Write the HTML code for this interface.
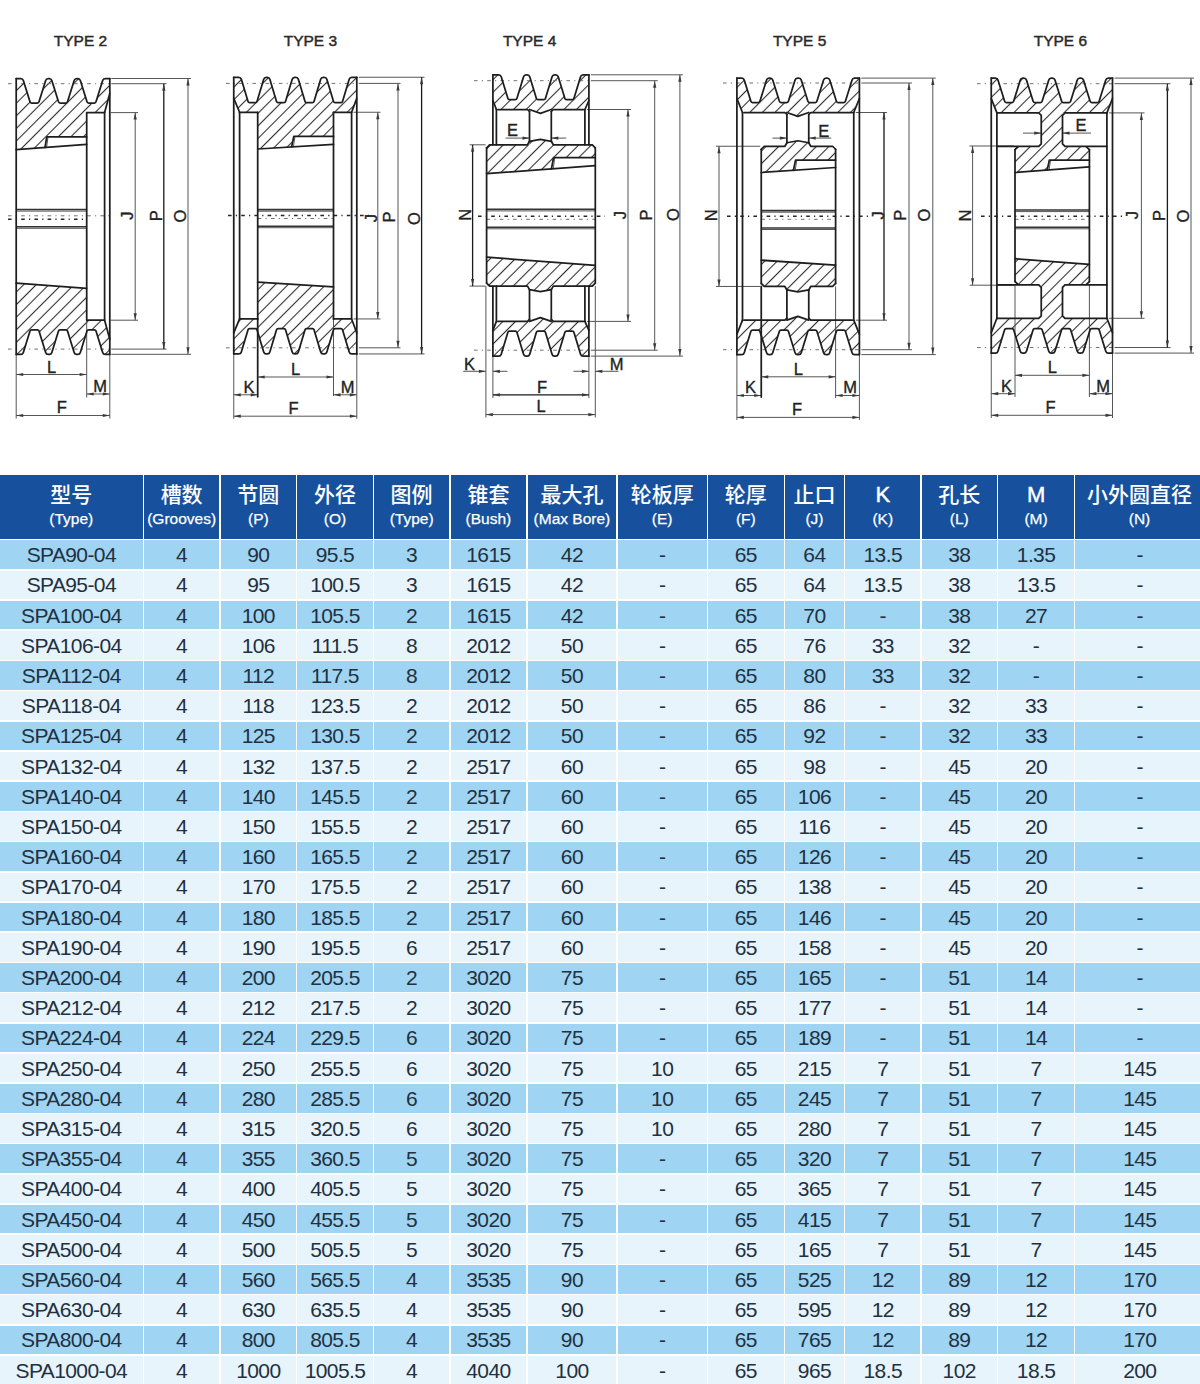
<!DOCTYPE html>
<html lang="zh-CN"><head><meta charset="utf-8"><title>SPA 4-groove taper bush pulleys</title>
<style>
html,body{margin:0;padding:0;background:#fff;}
body{width:1200px;height:1384px;position:relative;overflow:hidden;font-family:"Liberation Sans","Noto Sans CJK SC",sans-serif;}
#dw{position:absolute;left:0;top:0;}
.tbl{position:absolute;left:0;top:475.0px;width:1200px;display:grid;border-collapse:separate;border-spacing:0;margin:0;padding:0;}
.tbl thead,.tbl tbody,.tbl tr{display:contents;}
.tbl th,.tbl td{padding-left:0;padding-right:0;padding-bottom:0;margin:0;border:0;font-weight:normal;}
.th{background:#17519e;color:#fff;display:flex;padding-top:0;flex-direction:column;align-items:center;justify-content:flex-start;}
.th .zh{font-family:"Liberation Sans","Noto Sans CJK SC",sans-serif;font-weight:500;font-size:21px;line-height:21px;margin-top:8.6px;height:21px;white-space:nowrap;}
.th .zh.lat{font-size:22px;-webkit-text-stroke:0.45px #fff;}
.th .en{font-size:15.5px;line-height:16px;margin-top:6.3px;white-space:nowrap;-webkit-text-stroke:0.25px #fff;}
.th.last{padding-left:4px;}
.td{display:flex;align-items:center;justify-content:center;font-size:21px;letter-spacing:-0.6px;color:#223040;white-space:nowrap;padding-top:1.2px;box-sizing:border-box;}
.td.d{background:#9fd5f3;}
.td.l{background:#e8f4fc;}
.td.last{padding-left:4.5px;}
</style></head><body>
<svg id="dw" width="1200" height="470" viewBox="0 0 1200 470">
<defs><pattern id="ht" patternUnits="userSpaceOnUse" width="8.9" height="8.9" patternTransform="rotate(45)"><line x1="4.45" y1="-1" x2="4.45" y2="10" stroke="#2e2e2e" stroke-width="1.1"/></pattern><style>.dl{font-family:"Liberation Sans",sans-serif;font-size:16.5px;fill:#222;stroke:#222;stroke-width:0.35px;}.tt{font-family:"Liberation Sans",sans-serif;font-size:15.5px;fill:#2a2a2a;stroke:#2a2a2a;stroke-width:0.45px;}</style></defs>
<g fill="url(#ht)" stroke="none"><path d="M16.2 78.5 L22.75 78.5 L30.35 103 L38.65 103 L46.25 78.5 L51.25 78.5 L58.85 103 L67.15 103 L74.75 78.5 L79.75 78.5 L87.35 103 L95.65 103 L103.25 78.5 L109.8 78.5 L109.8 93.5 L104.6 112.6 L86.7 112.6 L86.7 136.9 L46.8 136.9 L45 147.48 L16.2 149.6 Z"/><path d="M16.2 354.3 L22.75 354.3 L30.35 329.8 L38.65 329.8 L46.25 354.3 L51.25 354.3 L58.85 329.8 L67.15 329.8 L74.75 354.3 L79.75 354.3 L87.35 329.8 L95.65 329.8 L103.25 354.3 L109.8 354.3 L109.8 339.3 L104.6 320.2 L86.7 320.2 L86.7 288.4 L16.2 283.2 Z"/><path d="M233.75 77.25 L240.77 77.25 L248.37 102.6 L256.67 102.6 L264.27 77.25 L269.27 77.25 L276.88 102.6 L285.17 102.6 L292.77 77.25 L297.77 77.25 L305.38 102.6 L313.67 102.6 L321.27 77.25 L326.27 77.25 L333.88 102.6 L342.17 102.6 L349.77 77.25 L356.8 77.25 L356.8 98.3 L351.6 112.25 L333.5 112.25 L333.5 136.4 L293.8 136.4 L291.6 146.9 L257.7 149 L257.7 112.25 L239.6 112.25 L233.75 98.3 Z"/><path d="M233.75 353.95 L240.77 353.95 L248.37 328.6 L256.67 328.6 L264.27 353.95 L269.27 353.95 L276.88 328.6 L285.17 328.6 L292.77 353.95 L297.77 353.95 L305.38 328.6 L313.67 328.6 L321.27 353.95 L326.27 353.95 L333.88 328.6 L342.17 328.6 L349.77 353.95 L356.8 353.95 L356.8 332.9 L351.6 318.95 L333.5 318.95 L333.5 286.9 L257.7 282.2 L257.7 318.95 L239.6 318.95 L233.75 332.9 Z"/><path d="M492.9 74.8 L500.65 74.8 L508.25 99.7 L516.55 99.7 L524.15 74.8 L529.15 74.8 L536.75 99.7 L545.05 99.7 L552.65 74.8 L557.65 74.8 L565.25 99.7 L573.55 99.7 L581.15 74.8 L588.9 74.8 L588.9 100.5 L584.9 109.5 L551.3 109.5 L540.4 113.3 L529.5 109.5 L496.4 109.5 L492.9 100.5 Z"/><path d="M492.9 356.1 L500.65 356.1 L508.25 331.2 L516.55 331.2 L524.15 356.1 L529.15 356.1 L536.75 331.2 L545.05 331.2 L552.65 356.1 L557.65 356.1 L565.25 331.2 L573.55 331.2 L581.15 356.1 L588.9 356.1 L588.9 330.4 L584.9 321.4 L551.3 321.4 L540.4 317.6 L529.5 321.4 L496.4 321.4 L492.9 330.4 Z"/><path d="M486.6 144.8 L529.5 144.8 L529.5 141.3 L540.4 139.3 L551.3 141.3 L551.3 144.8 L595.3 144.8 L595.3 157.5 L553.6 157.5 L551.4 168.87 L486.6 173.7 Z"/><path d="M486.6 286.1 L529.5 286.1 L529.5 289.6 L540.4 291.6 L551.3 289.6 L551.3 286.1 L595.3 286.1 L595.3 265.3 L486.6 257.2 Z"/><path d="M736.9 78.1 L743.65 78.1 L751.25 102.5 L759.55 102.5 L767.15 78.1 L772.15 78.1 L779.75 102.5 L788.05 102.5 L795.65 78.1 L800.65 78.1 L808.25 102.5 L816.55 102.5 L824.15 78.1 L829.15 78.1 L836.75 102.5 L845.05 102.5 L852.65 78.1 L859.4 78.1 L859.4 98.5 L853.75 112.5 L808.75 112.5 L797.83 116.3 L786.9 112.5 L742.5 112.5 L736.9 98.5 Z"/><path d="M736.9 354.6 L743.65 354.6 L751.25 330.2 L759.55 330.2 L767.15 354.6 L772.15 354.6 L779.75 330.2 L788.05 330.2 L795.65 354.6 L800.65 354.6 L808.25 330.2 L816.55 330.2 L824.15 354.6 L829.15 354.6 L836.75 330.2 L845.05 330.2 L852.65 354.6 L859.4 354.6 L859.4 334.2 L853.75 320.2 L808.75 320.2 L797.83 316.4 L786.9 320.2 L742.5 320.2 L736.9 334.2 Z"/><path d="M761.25 146.25 L786.9 146.25 L786.9 142.75 L797.83 140.75 L808.75 142.75 L808.75 146.25 L835.6 146.25 L835.6 160 L795.6 160 L793.4 170.34 L761.25 172.5 Z"/><path d="M761.25 286.45 L786.9 286.45 L786.9 289.95 L797.83 291.95 L808.75 289.95 L808.75 286.45 L835.6 286.45 L835.6 265.2 L761.25 260.2 Z"/><path d="M991.25 78.1 L997.38 78.1 L1004.98 102.5 L1013.27 102.5 L1020.88 78.1 L1025.88 78.1 L1033.47 102.5 L1041.78 102.5 L1049.38 78.1 L1054.38 78.1 L1061.97 102.5 L1070.28 102.5 L1077.88 78.1 L1082.88 78.1 L1090.47 102.5 L1098.78 102.5 L1106.38 78.1 L1112.5 78.1 L1112.5 98.5 L1106.9 112.9 L1062.5 112.9 L1062.5 146.6 L1089.4 146.6 L1089.4 160 L1049.4 160 L1047.2 170.08 L1015 172.5 L1015 146.6 L1041.25 146.6 L1041.25 112.9 L996.9 112.9 L991.25 98.5 Z"/><path d="M991.25 353.1 L997.38 353.1 L1004.98 328.7 L1013.27 328.7 L1020.88 353.1 L1025.88 353.1 L1033.47 328.7 L1041.78 328.7 L1049.38 353.1 L1054.38 353.1 L1061.97 328.7 L1070.28 328.7 L1077.88 353.1 L1082.88 353.1 L1090.47 328.7 L1098.78 328.7 L1106.38 353.1 L1112.5 353.1 L1112.5 332.7 L1106.9 318.3 L1062.5 318.3 L1062.5 284.6 L1089.4 284.6 L1089.4 264.3 L1015 258.7 L1015 284.6 L1041.25 284.6 L1041.25 318.3 L996.9 318.3 L991.25 332.7 Z"/></g>
<g fill="none" stroke="#262626" stroke-width="1.6" stroke-dasharray="3.6 4.2 1.2 4.2"><path d="M8 219.3 L86.7 219.3"/><path d="M228 215.5 L372 215.5"/><path d="M478 216.3 L605 216.3"/><path d="M727 216.3 L872 216.3"/><path d="M981 216.3 L1125 216.3"/></g>
<g fill="none" stroke="#707070" stroke-width="1" stroke-dasharray="3.6 4.2 1.2 4.2"><path d="M8 215.8 L112.3 215.8"/><path d="M8 83.7 L109.8 83.7"/><path d="M8 349.1 L109.8 349.1"/><path d="M257.7 218.5 L333.5 218.5"/><path d="M226 83.4 L356.8 83.4"/><path d="M226 347.8 L356.8 347.8"/><path d="M486.6 219.3 L595.3 219.3"/><path d="M474 80.7 L588.9 80.7"/><path d="M474 350.2 L588.9 350.2"/><path d="M761.25 219.3 L835.6 219.3"/><path d="M723 83 L859.4 83"/><path d="M723 349.7 L859.4 349.7"/><path d="M1015 219.3 L1089.4 219.3"/><path d="M977 83.7 L1112.5 83.7"/><path d="M977 347.5 L1112.5 347.5"/></g>
<g fill="none" stroke="#4d4d4d" stroke-width="0.95"><path d="M48 136.9 L46.6 147.48"/><path d="M16.2 211.1 L86.7 211.1"/><path d="M16.2 228.3 L86.7 228.3"/><path d="M111.3 78.5 L191 78.5"/><path d="M111.3 354.3 L191 354.3"/><path d="M111.3 83.7 L166.5 83.7"/><path d="M111.3 349.1 L166.5 349.1"/><path d="M110.6 112.6 L138 112.6"/><path d="M110.6 320.2 L138 320.2"/><path d="M135.2 112.6 L135.2 320.2"/><path d="M188 78.5 L188 354.3"/><path d="M16.2 354.3 L16.2 418.5"/><path d="M86.7 320.2 L86.7 397.5"/><path d="M109.8 354.3 L109.8 418.5"/><path d="M16.2 374.5 L86.7 374.5"/><path d="M86.7 394 L109.8 394"/><path d="M16.2 415.5 L109.8 415.5"/><path d="M295 136.4 L293.4 146.9"/><path d="M257.7 211.2 L333.5 211.2"/><path d="M257.7 227.7 L333.5 227.7"/><path d="M358.8 77.25 L424.5 77.25"/><path d="M358.8 353.95 L424.5 353.95"/><path d="M358.8 83.4 L400.5 83.4"/><path d="M358.8 347.8 L400.5 347.8"/><path d="M353.6 112.25 L380.5 112.25"/><path d="M353.6 318.95 L380.5 318.95"/><path d="M377.8 112.25 L377.8 318.95"/><path d="M398 83.4 L398 347.8"/><path d="M233.75 353.95 L233.75 418.8"/><path d="M356.8 353.95 L356.8 418.8"/><path d="M333.5 318.95 L333.5 396"/><path d="M257.7 377 L333.5 377"/><path d="M233.75 394.8 L257.7 394.8"/><path d="M333.5 394.8 L356.8 394.8"/><path d="M233.75 416.2 L356.8 416.2"/><path d="M554.8 157.5 L553.2 168.87"/><path d="M486.6 210.9 L595.3 210.9"/><path d="M486.6 228.8 L595.3 228.8"/><path d="M590.9 74.8 L682.9 74.8"/><path d="M590.9 356.1 L682.9 356.1"/><path d="M590.9 80.7 L657.7 80.7"/><path d="M590.9 350.2 L657.7 350.2"/><path d="M586.9 109.5 L631 109.5"/><path d="M586.9 321.4 L631 321.4"/><path d="M469.6 144.8 L485.6 144.8"/><path d="M469.6 286.1 L485.6 286.1"/><path d="M628 109.5 L628 321.4"/><path d="M654.7 80.7 L654.7 350.2"/><path d="M679.9 74.8 L679.9 356.1"/><path d="M505.5 138.1 L529.5 138.1"/><path d="M551.3 138.1 L566.3 138.1"/><path d="M485.9 286.1 L485.9 417.5"/><path d="M595.3 286.1 L595.3 417.5"/><path d="M492.9 356.1 L492.9 398"/><path d="M588.9 356.1 L588.9 398"/><path d="M463.3 371.3 L485.9 371.3"/><path d="M492.9 371.3 L507.5 371.3"/><path d="M573.5 371.3 L588.9 371.3"/><path d="M595.3 371.3 L618.5 371.3"/><path d="M485.9 414.6 L595.3 414.6"/><path d="M796.8 160 L795.2 170.34"/><path d="M761.25 212.2 L835.6 212.2"/><path d="M761.25 229.5 L835.6 229.5"/><path d="M861.4 78.1 L935.8 78.1"/><path d="M861.4 354.6 L935.8 354.6"/><path d="M861.4 83 L912 83"/><path d="M861.4 349.7 L912 349.7"/><path d="M855.75 112.5 L887 112.5"/><path d="M855.75 320.2 L887 320.2"/><path d="M716 146.25 L760.25 146.25"/><path d="M716 286.45 L760.25 286.45"/><path d="M719 146.25 L719 286.45"/><path d="M909 83 L909 349.7"/><path d="M932.8 78.1 L932.8 354.6"/><path d="M772.4 138.1 L786.9 138.1"/><path d="M808.75 138.1 L831.25 138.1"/><path d="M736.9 354.6 L736.9 420"/><path d="M859.4 354.6 L859.4 420"/><path d="M835.6 286.45 L835.6 398"/><path d="M761.25 376.8 L835.6 376.8"/><path d="M736.9 395.5 L761.25 395.5"/><path d="M835.6 395.5 L859.4 395.5"/><path d="M736.9 417.4 L859.4 417.4"/><path d="M1050.6 160 L1049 170.08"/><path d="M1015 211.6 L1089.4 211.6"/><path d="M1015 228.8 L1089.4 228.8"/><path d="M1114.5 78.1 L1194 78.1"/><path d="M1114.5 353.1 L1194 353.1"/><path d="M1114.5 83.7 L1170.5 83.7"/><path d="M1114.5 347.5 L1170.5 347.5"/><path d="M1108.9 112.9 L1144.5 112.9"/><path d="M1108.9 318.3 L1144.5 318.3"/><path d="M969.5 146 L1014 146"/><path d="M969.5 285.2 L1014 285.2"/><path d="M972.6 146 L972.6 285.2"/><path d="M1141.4 112.9 L1141.4 318.3"/><path d="M1191 78.1 L1191 353.1"/><path d="M1023 133.1 L1041.25 133.1"/><path d="M1062.5 133.1 L1091 133.1"/><path d="M991.25 353.1 L991.25 418"/><path d="M1112.5 353.1 L1112.5 418"/><path d="M1015 284.6 L1015 397"/><path d="M1089.4 284.6 L1089.4 397"/><path d="M1015 375.3 L1089.4 375.3"/><path d="M991.25 393.7 L1015 393.7"/><path d="M1089.4 393.7 L1112.5 393.7"/><path d="M991.25 415.3 L1112.5 415.3"/></g>
<g fill="none" stroke="#1a1a1a" stroke-width="1.3"><path d="M163.8 83.7 L163.8 349.1"/><path d="M421.6 77.25 L421.6 353.95"/><path d="M472.6 144.8 L472.6 286.1"/><path d="M492.9 394.8 L588.9 394.8"/><path d="M884 112.5 L884 320.2"/><path d="M1167.4 83.7 L1167.4 347.5"/></g>
<g fill="none" stroke="#333" stroke-width="1.6"><path d="M16.2 209.5 L86.7 209.5"/><path d="M16.2 226.8 L86.7 226.8"/><path d="M257.7 209.6 L333.5 209.6"/><path d="M257.7 226.2 L333.5 226.2"/><path d="M486.6 209.3 L595.3 209.3"/><path d="M486.6 227.3 L595.3 227.3"/><path d="M761.25 210.6 L835.6 210.6"/><path d="M761.25 228 L835.6 228"/><path d="M1015 210 L1089.4 210"/><path d="M1015 227.3 L1089.4 227.3"/></g>
<g fill="none" stroke="#1e1e1e" stroke-width="1.75" stroke-linejoin="round" stroke-linecap="round"><path d="M16.2 78.5 L20.75 78.5 Q22.75 78.5 23.34 80.41 L29.99 101.85 Q30.35 103 31.55 103 L37.45 103 Q38.65 103 39.01 101.85 L45.66 80.41 Q46.25 78.5 48.25 78.5 L49.25 78.5 Q51.25 78.5 51.84 80.41 L58.49 101.85 Q58.85 103 60.05 103 L65.95 103 Q67.15 103 67.51 101.85 L74.16 80.41 Q74.75 78.5 76.75 78.5 L77.75 78.5 Q79.75 78.5 80.34 80.41 L86.99 101.85 Q87.35 103 88.55 103 L94.45 103 Q95.65 103 96.01 101.85 L102.66 80.41 Q103.25 78.5 105.25 78.5 L109.8 78.5"/><path d="M16.2 354.3 L20.75 354.3 Q22.75 354.3 23.34 352.39 L29.99 330.95 Q30.35 329.8 31.55 329.8 L37.45 329.8 Q38.65 329.8 39.01 330.95 L45.66 352.39 Q46.25 354.3 48.25 354.3 L49.25 354.3 Q51.25 354.3 51.84 352.39 L58.49 330.95 Q58.85 329.8 60.05 329.8 L65.95 329.8 Q67.15 329.8 67.51 330.95 L74.16 352.39 Q74.75 354.3 76.75 354.3 L77.75 354.3 Q79.75 354.3 80.34 352.39 L86.99 330.95 Q87.35 329.8 88.55 329.8 L94.45 329.8 Q95.65 329.8 96.01 330.95 L102.66 352.39 Q103.25 354.3 105.25 354.3 L109.8 354.3"/><path d="M16.2 78.5 L16.2 354.3"/><path d="M109.8 78.5 L109.8 354.3"/><path d="M109.8 93.5 L104.6 112.6"/><path d="M109.8 339.3 L104.6 320.2"/><path d="M86.7 112.6 L104.6 112.6 L104.6 320.2 L86.7 320.2 Z"/><path d="M16.2 149.6 L86.7 144.4"/><path d="M16.2 283.2 L86.7 288.4"/><path d="M86.7 136.9 L46.8 136.9 L45 147.48"/><path d="M233.75 77.25 L238.77 77.25 Q240.77 77.25 241.35 79.17 L248.03 101.45 Q248.37 102.6 249.57 102.6 L255.47 102.6 Q256.67 102.6 257.02 101.45 L263.7 79.17 Q264.27 77.25 266.27 77.25 L267.27 77.25 Q269.27 77.25 269.85 79.17 L276.53 101.45 Q276.88 102.6 278.07 102.6 L283.97 102.6 Q285.17 102.6 285.52 101.45 L292.2 79.17 Q292.77 77.25 294.77 77.25 L295.77 77.25 Q297.77 77.25 298.35 79.17 L305.03 101.45 Q305.38 102.6 306.57 102.6 L312.47 102.6 Q313.67 102.6 314.02 101.45 L320.7 79.17 Q321.27 77.25 323.27 77.25 L324.27 77.25 Q326.27 77.25 326.85 79.17 L333.53 101.45 Q333.88 102.6 335.07 102.6 L340.97 102.6 Q342.17 102.6 342.52 101.45 L349.2 79.17 Q349.77 77.25 351.77 77.25 L356.8 77.25"/><path d="M233.75 98.3 L239.6 112.25 L257.7 112.25"/><path d="M356.8 98.3 L351.6 112.25 L333.5 112.25"/><path d="M257.7 149 L333.5 144.3"/><path d="M233.75 353.95 L238.77 353.95 Q240.77 353.95 241.35 352.03 L248.03 329.75 Q248.37 328.6 249.57 328.6 L255.47 328.6 Q256.67 328.6 257.02 329.75 L263.7 352.03 Q264.27 353.95 266.27 353.95 L267.27 353.95 Q269.27 353.95 269.85 352.03 L276.53 329.75 Q276.88 328.6 278.07 328.6 L283.97 328.6 Q285.17 328.6 285.52 329.75 L292.2 352.03 Q292.77 353.95 294.77 353.95 L295.77 353.95 Q297.77 353.95 298.35 352.03 L305.03 329.75 Q305.38 328.6 306.57 328.6 L312.47 328.6 Q313.67 328.6 314.02 329.75 L320.7 352.03 Q321.27 353.95 323.27 353.95 L324.27 353.95 Q326.27 353.95 326.85 352.03 L333.53 329.75 Q333.88 328.6 335.07 328.6 L340.97 328.6 Q342.17 328.6 342.52 329.75 L349.2 352.03 Q349.77 353.95 351.77 353.95 L356.8 353.95"/><path d="M233.75 332.9 L239.6 318.95 L257.7 318.95"/><path d="M356.8 332.9 L351.6 318.95 L333.5 318.95"/><path d="M257.7 282.2 L333.5 286.9"/><path d="M233.75 77.25 L233.75 353.95"/><path d="M356.8 77.25 L356.8 353.95"/><path d="M239.6 112.25 L239.6 318.95"/><path d="M351.6 112.25 L351.6 318.95"/><path d="M257.7 112.25 L257.7 318.95"/><path d="M333.5 112.25 L333.5 318.95"/><path d="M333.5 136.4 L293.8 136.4 L291.6 146.9"/><path d="M257.7 318.95 L257.7 396.8"/><path d="M492.9 74.8 L498.65 74.8 Q500.65 74.8 501.23 76.71 L507.9 98.55 Q508.25 99.7 509.45 99.7 L515.35 99.7 Q516.55 99.7 516.9 98.55 L523.57 76.71 Q524.15 74.8 526.15 74.8 L527.15 74.8 Q529.15 74.8 529.73 76.71 L536.4 98.55 Q536.75 99.7 537.95 99.7 L543.85 99.7 Q545.05 99.7 545.4 98.55 L552.07 76.71 Q552.65 74.8 554.65 74.8 L555.65 74.8 Q557.65 74.8 558.23 76.71 L564.9 98.55 Q565.25 99.7 566.45 99.7 L572.35 99.7 Q573.55 99.7 573.9 98.55 L580.57 76.71 Q581.15 74.8 583.15 74.8 L588.9 74.8"/><path d="M492.9 100.5 L496.4 109.51"/><path d="M588.9 100.5 L584.9 109.51"/><path d="M497.9 109.5 L527.5 109.5 L529.5 111.5"/><path d="M583.4 109.5 L553.3 109.5 L551.3 111.5"/><path d="M529.5 109.5 L540.4 113.3 L551.3 109.5"/><path d="M529.5 111.5 L529.5 141.3"/><path d="M551.3 111.5 L551.3 141.3"/><path d="M529.5 141.3 L540.4 139.3 L551.3 141.3"/><path d="M486.6 147.8 L489.6 144.8 L527.5 144.8 L529.5 141.3"/><path d="M595.3 147.8 L592.3 144.8 L553.3 144.8 L551.3 141.3"/><path d="M486.6 173.7 L595.3 165.6"/><path d="M492.9 356.1 L498.65 356.1 Q500.65 356.1 501.23 354.19 L507.9 332.35 Q508.25 331.2 509.45 331.2 L515.35 331.2 Q516.55 331.2 516.9 332.35 L523.57 354.19 Q524.15 356.1 526.15 356.1 L527.15 356.1 Q529.15 356.1 529.73 354.19 L536.4 332.35 Q536.75 331.2 537.95 331.2 L543.85 331.2 Q545.05 331.2 545.4 332.35 L552.07 354.19 Q552.65 356.1 554.65 356.1 L555.65 356.1 Q557.65 356.1 558.23 354.19 L564.9 332.35 Q565.25 331.2 566.45 331.2 L572.35 331.2 Q573.55 331.2 573.9 332.35 L580.57 354.19 Q581.15 356.1 583.15 356.1 L588.9 356.1"/><path d="M492.9 330.4 L496.4 321.39"/><path d="M588.9 330.4 L584.9 321.39"/><path d="M497.9 321.4 L527.5 321.4 L529.5 319.4"/><path d="M583.4 321.4 L553.3 321.4 L551.3 319.4"/><path d="M529.5 321.4 L540.4 317.6 L551.3 321.4"/><path d="M529.5 319.4 L529.5 289.6"/><path d="M551.3 319.4 L551.3 289.6"/><path d="M529.5 289.6 L540.4 291.6 L551.3 289.6"/><path d="M486.6 283.1 L489.6 286.1 L527.5 286.1 L529.5 289.6"/><path d="M595.3 283.1 L592.3 286.1 L553.3 286.1 L551.3 289.6"/><path d="M486.6 257.2 L595.3 265.3"/><path d="M486.6 147.8 L486.6 283.1"/><path d="M595.3 147.8 L595.3 283.1"/><path d="M492.9 74.8 L492.9 144.8"/><path d="M588.9 74.8 L588.9 144.8"/><path d="M496.4 109.5 L496.4 144.8"/><path d="M584.9 109.5 L584.9 144.8"/><path d="M492.9 356.1 L492.9 286.1"/><path d="M588.9 356.1 L588.9 286.1"/><path d="M496.4 321.4 L496.4 286.1"/><path d="M584.9 321.4 L584.9 286.1"/><path d="M595.3 157.5 L553.6 157.5 L551.4 168.87"/><path d="M736.9 78.1 L741.65 78.1 Q743.65 78.1 744.24 80.01 L750.89 101.35 Q751.25 102.5 752.45 102.5 L758.35 102.5 Q759.55 102.5 759.91 101.35 L766.56 80.01 Q767.15 78.1 769.15 78.1 L770.15 78.1 Q772.15 78.1 772.74 80.01 L779.39 101.35 Q779.75 102.5 780.95 102.5 L786.85 102.5 Q788.05 102.5 788.41 101.35 L795.06 80.01 Q795.65 78.1 797.65 78.1 L798.65 78.1 Q800.65 78.1 801.24 80.01 L807.89 101.35 Q808.25 102.5 809.45 102.5 L815.35 102.5 Q816.55 102.5 816.91 101.35 L823.56 80.01 Q824.15 78.1 826.15 78.1 L827.15 78.1 Q829.15 78.1 829.74 80.01 L836.39 101.35 Q836.75 102.5 837.95 102.5 L843.85 102.5 Q845.05 102.5 845.41 101.35 L852.06 80.01 Q852.65 78.1 854.65 78.1 L859.4 78.1"/><path d="M736.9 98.5 L742.5 112.51"/><path d="M859.4 98.5 L853.75 112.51"/><path d="M744 112.5 L784.9 112.5 L786.9 114.5"/><path d="M852.25 112.5 L810.75 112.5 L808.75 114.5"/><path d="M786.9 112.5 L797.83 116.3 L808.75 112.5"/><path d="M786.9 114.5 L786.9 142.75"/><path d="M808.75 114.5 L808.75 142.75"/><path d="M786.9 142.75 L797.83 140.75 L808.75 142.75"/><path d="M761.25 149.25 L764.25 146.25 L784.9 146.25 L786.9 142.75"/><path d="M835.6 149.25 L832.6 146.25 L810.75 146.25 L808.75 142.75"/><path d="M761.25 172.5 L835.6 167.5"/><path d="M736.9 354.6 L741.65 354.6 Q743.65 354.6 744.24 352.69 L750.89 331.35 Q751.25 330.2 752.45 330.2 L758.35 330.2 Q759.55 330.2 759.91 331.35 L766.56 352.69 Q767.15 354.6 769.15 354.6 L770.15 354.6 Q772.15 354.6 772.74 352.69 L779.39 331.35 Q779.75 330.2 780.95 330.2 L786.85 330.2 Q788.05 330.2 788.41 331.35 L795.06 352.69 Q795.65 354.6 797.65 354.6 L798.65 354.6 Q800.65 354.6 801.24 352.69 L807.89 331.35 Q808.25 330.2 809.45 330.2 L815.35 330.2 Q816.55 330.2 816.91 331.35 L823.56 352.69 Q824.15 354.6 826.15 354.6 L827.15 354.6 Q829.15 354.6 829.74 352.69 L836.39 331.35 Q836.75 330.2 837.95 330.2 L843.85 330.2 Q845.05 330.2 845.41 331.35 L852.06 352.69 Q852.65 354.6 854.65 354.6 L859.4 354.6"/><path d="M736.9 334.2 L742.5 320.19"/><path d="M859.4 334.2 L853.75 320.19"/><path d="M744 320.2 L784.9 320.2 L786.9 318.2"/><path d="M852.25 320.2 L810.75 320.2 L808.75 318.2"/><path d="M786.9 320.2 L797.83 316.4 L808.75 320.2"/><path d="M786.9 318.2 L786.9 289.95"/><path d="M808.75 318.2 L808.75 289.95"/><path d="M786.9 289.95 L797.83 291.95 L808.75 289.95"/><path d="M761.25 283.45 L764.25 286.45 L784.9 286.45 L786.9 289.95"/><path d="M835.6 283.45 L832.6 286.45 L810.75 286.45 L808.75 289.95"/><path d="M761.25 260.2 L835.6 265.2"/><path d="M761.25 149.25 L761.25 283.45"/><path d="M835.6 149.25 L835.6 283.45"/><path d="M736.9 78.1 L736.9 354.6"/><path d="M859.4 78.1 L859.4 354.6"/><path d="M742.5 112.5 L742.5 320.2"/><path d="M853.75 112.5 L853.75 320.2"/><path d="M835.6 160 L795.6 160 L793.4 170.34"/><path d="M761.25 286.45 L761.25 397"/><path d="M991.25 78.1 L995.38 78.1 Q997.38 78.1 997.97 80.01 L1004.62 101.35 Q1004.98 102.5 1006.18 102.5 L1012.07 102.5 Q1013.27 102.5 1013.63 101.35 L1020.28 80.01 Q1020.88 78.1 1022.88 78.1 L1023.88 78.1 Q1025.88 78.1 1026.47 80.01 L1033.12 101.35 Q1033.47 102.5 1034.67 102.5 L1040.58 102.5 Q1041.78 102.5 1042.13 101.35 L1048.78 80.01 Q1049.38 78.1 1051.38 78.1 L1052.38 78.1 Q1054.38 78.1 1054.97 80.01 L1061.62 101.35 Q1061.97 102.5 1063.17 102.5 L1069.08 102.5 Q1070.28 102.5 1070.63 101.35 L1077.28 80.01 Q1077.88 78.1 1079.88 78.1 L1080.88 78.1 Q1082.88 78.1 1083.47 80.01 L1090.12 101.35 Q1090.47 102.5 1091.67 102.5 L1097.58 102.5 Q1098.78 102.5 1099.13 101.35 L1105.78 80.01 Q1106.38 78.1 1108.38 78.1 L1112.5 78.1"/><path d="M991.25 98.5 L996.9 112.9"/><path d="M1112.5 98.5 L1106.9 112.9"/><path d="M996.9 112.9 L1038.75 112.9 L1041.25 115.4 L1041.25 143.8 L1038.75 146.3 L996.9 146.3"/><path d="M1106.9 112.9 L1065 112.9 L1062.5 115.4 L1062.5 143.8 L1065 146.3 L1106.9 146.3"/><path d="M1015 149.6 L1018 146.9"/><path d="M1089.4 149.6 L1086.4 146.9"/><path d="M1015 172.5 L1089.4 166.9"/><path d="M991.25 353.1 L995.38 353.1 Q997.38 353.1 997.97 351.19 L1004.62 329.85 Q1004.98 328.7 1006.18 328.7 L1012.07 328.7 Q1013.27 328.7 1013.63 329.85 L1020.28 351.19 Q1020.88 353.1 1022.88 353.1 L1023.88 353.1 Q1025.88 353.1 1026.47 351.19 L1033.12 329.85 Q1033.47 328.7 1034.67 328.7 L1040.58 328.7 Q1041.78 328.7 1042.13 329.85 L1048.78 351.19 Q1049.38 353.1 1051.38 353.1 L1052.38 353.1 Q1054.38 353.1 1054.97 351.19 L1061.62 329.85 Q1061.97 328.7 1063.17 328.7 L1069.08 328.7 Q1070.28 328.7 1070.63 329.85 L1077.28 351.19 Q1077.88 353.1 1079.88 353.1 L1080.88 353.1 Q1082.88 353.1 1083.47 351.19 L1090.12 329.85 Q1090.47 328.7 1091.67 328.7 L1097.58 328.7 Q1098.78 328.7 1099.13 329.85 L1105.78 351.19 Q1106.38 353.1 1108.38 353.1 L1112.5 353.1"/><path d="M991.25 332.7 L996.9 318.3"/><path d="M1112.5 332.7 L1106.9 318.3"/><path d="M996.9 318.3 L1038.75 318.3 L1041.25 315.8 L1041.25 287.4 L1038.75 284.9 L996.9 284.9"/><path d="M1106.9 318.3 L1065 318.3 L1062.5 315.8 L1062.5 287.4 L1065 284.9 L1106.9 284.9"/><path d="M1015 281.6 L1018 284.3"/><path d="M1089.4 281.6 L1086.4 284.3"/><path d="M1015 258.7 L1089.4 264.3"/><path d="M991.25 78.1 L991.25 353.1"/><path d="M1112.5 78.1 L1112.5 353.1"/><path d="M996.9 112.9 L996.9 318.3"/><path d="M1106.9 112.9 L1106.9 318.3"/><path d="M1015 149.6 L1015 281.6"/><path d="M1089.4 149.6 L1089.4 281.6"/><path d="M1089.4 160 L1049.4 160 L1047.2 170.08"/></g>
<g fill="#3a3a3a" stroke="none"><path d="M135.2 112.6 L133.6 119.6 L136.8 119.6 Z"/><path d="M135.2 320.2 L133.6 313.2 L136.8 313.2 Z"/><path d="M163.8 83.7 L162.2 90.7 L165.4 90.7 Z"/><path d="M163.8 349.1 L162.2 342.1 L165.4 342.1 Z"/><path d="M188 78.5 L186.4 85.5 L189.6 85.5 Z"/><path d="M188 354.3 L186.4 347.3 L189.6 347.3 Z"/><path d="M16.2 374.5 L23.2 372.9 L23.2 376.1 Z"/><path d="M86.7 374.5 L79.7 372.9 L79.7 376.1 Z"/><path d="M86.7 394 L93.7 392.4 L93.7 395.6 Z"/><path d="M109.8 394 L102.8 392.4 L102.8 395.6 Z"/><path d="M16.2 415.5 L23.2 413.9 L23.2 417.1 Z"/><path d="M109.8 415.5 L102.8 413.9 L102.8 417.1 Z"/><path d="M377.8 112.25 L376.2 119.25 L379.4 119.25 Z"/><path d="M377.8 318.95 L376.2 311.95 L379.4 311.95 Z"/><path d="M398 83.4 L396.4 90.4 L399.6 90.4 Z"/><path d="M398 347.8 L396.4 340.8 L399.6 340.8 Z"/><path d="M421.6 77.25 L420 84.25 L423.2 84.25 Z"/><path d="M421.6 353.95 L420 346.95 L423.2 346.95 Z"/><path d="M257.7 377 L264.7 375.4 L264.7 378.6 Z"/><path d="M333.5 377 L326.5 375.4 L326.5 378.6 Z"/><path d="M233.75 394.8 L240.75 393.2 L240.75 396.4 Z"/><path d="M257.7 394.8 L250.7 393.2 L250.7 396.4 Z"/><path d="M333.5 394.8 L340.5 393.2 L340.5 396.4 Z"/><path d="M356.8 394.8 L349.8 393.2 L349.8 396.4 Z"/><path d="M233.75 416.2 L240.75 414.6 L240.75 417.8 Z"/><path d="M356.8 416.2 L349.8 414.6 L349.8 417.8 Z"/><path d="M472.6 144.8 L471 151.8 L474.2 151.8 Z"/><path d="M472.6 286.1 L471 279.1 L474.2 279.1 Z"/><path d="M628 109.5 L626.4 116.5 L629.6 116.5 Z"/><path d="M628 321.4 L626.4 314.4 L629.6 314.4 Z"/><path d="M654.7 80.7 L653.1 87.7 L656.3 87.7 Z"/><path d="M654.7 350.2 L653.1 343.2 L656.3 343.2 Z"/><path d="M679.9 74.8 L678.3 81.8 L681.5 81.8 Z"/><path d="M679.9 356.1 L678.3 349.1 L681.5 349.1 Z"/><path d="M529.5 138.1 L522.5 136.5 L522.5 139.7 Z"/><path d="M551.3 138.1 L558.3 136.5 L558.3 139.7 Z"/><path d="M485.9 371.3 L478.9 369.7 L478.9 372.9 Z"/><path d="M492.9 371.3 L499.9 369.7 L499.9 372.9 Z"/><path d="M588.9 371.3 L581.9 369.7 L581.9 372.9 Z"/><path d="M595.3 371.3 L602.3 369.7 L602.3 372.9 Z"/><path d="M492.9 394.8 L499.9 393.2 L499.9 396.4 Z"/><path d="M588.9 394.8 L581.9 393.2 L581.9 396.4 Z"/><path d="M485.9 414.6 L492.9 413 L492.9 416.2 Z"/><path d="M595.3 414.6 L588.3 413 L588.3 416.2 Z"/><path d="M719 146.25 L717.4 153.25 L720.6 153.25 Z"/><path d="M719 286.45 L717.4 279.45 L720.6 279.45 Z"/><path d="M884 112.5 L882.4 119.5 L885.6 119.5 Z"/><path d="M884 320.2 L882.4 313.2 L885.6 313.2 Z"/><path d="M909 83 L907.4 90 L910.6 90 Z"/><path d="M909 349.7 L907.4 342.7 L910.6 342.7 Z"/><path d="M932.8 78.1 L931.2 85.1 L934.4 85.1 Z"/><path d="M932.8 354.6 L931.2 347.6 L934.4 347.6 Z"/><path d="M786.9 138.1 L779.9 136.5 L779.9 139.7 Z"/><path d="M808.75 138.1 L815.75 136.5 L815.75 139.7 Z"/><path d="M761.25 376.8 L768.25 375.2 L768.25 378.4 Z"/><path d="M835.6 376.8 L828.6 375.2 L828.6 378.4 Z"/><path d="M736.9 395.5 L743.9 393.9 L743.9 397.1 Z"/><path d="M761.25 395.5 L754.25 393.9 L754.25 397.1 Z"/><path d="M835.6 395.5 L842.6 393.9 L842.6 397.1 Z"/><path d="M859.4 395.5 L852.4 393.9 L852.4 397.1 Z"/><path d="M736.9 417.4 L743.9 415.8 L743.9 419 Z"/><path d="M859.4 417.4 L852.4 415.8 L852.4 419 Z"/><path d="M972.6 146 L971 153 L974.2 153 Z"/><path d="M972.6 285.2 L971 278.2 L974.2 278.2 Z"/><path d="M1141.4 112.9 L1139.8 119.9 L1143 119.9 Z"/><path d="M1141.4 318.3 L1139.8 311.3 L1143 311.3 Z"/><path d="M1167.4 83.7 L1165.8 90.7 L1169 90.7 Z"/><path d="M1167.4 347.5 L1165.8 340.5 L1169 340.5 Z"/><path d="M1191 78.1 L1189.4 85.1 L1192.6 85.1 Z"/><path d="M1191 353.1 L1189.4 346.1 L1192.6 346.1 Z"/><path d="M1041.25 133.1 L1034.25 131.5 L1034.25 134.7 Z"/><path d="M1062.5 133.1 L1069.5 131.5 L1069.5 134.7 Z"/><path d="M1015 375.3 L1022 373.7 L1022 376.9 Z"/><path d="M1089.4 375.3 L1082.4 373.7 L1082.4 376.9 Z"/><path d="M991.25 393.7 L998.25 392.1 L998.25 395.3 Z"/><path d="M1015 393.7 L1008 392.1 L1008 395.3 Z"/><path d="M1089.4 393.7 L1096.4 392.1 L1096.4 395.3 Z"/><path d="M1112.5 393.7 L1105.5 392.1 L1105.5 395.3 Z"/><path d="M991.25 415.3 L998.25 413.7 L998.25 416.9 Z"/><path d="M1112.5 415.3 L1105.5 413.7 L1105.5 416.9 Z"/></g>
<g><text class="dl" transform="translate(126.8 215.7) rotate(-90)" text-anchor="middle" dy="6">J</text><text class="dl" transform="translate(155.5 215.7) rotate(-90)" text-anchor="middle" dy="6">P</text><text class="dl" transform="translate(180.4 216.1) rotate(-90)" text-anchor="middle" dy="6">O</text><text class="dl" x="51.5" y="372.5" text-anchor="middle">L</text><text class="dl" x="100.2" y="391.5" text-anchor="middle">M</text><text class="dl" x="61.8" y="413" text-anchor="middle">F</text><text class="tt" x="80.5" y="45.9" text-anchor="middle">TYPE 2</text><text class="dl" transform="translate(370.5 218.1) rotate(-90)" text-anchor="middle" dy="6">J</text><text class="dl" transform="translate(389 217.1) rotate(-90)" text-anchor="middle" dy="6">P</text><text class="dl" transform="translate(414.2 218.5) rotate(-90)" text-anchor="middle" dy="6">O</text><text class="dl" x="295.5" y="375" text-anchor="middle">L</text><text class="dl" x="249" y="392.5" text-anchor="middle">K</text><text class="dl" x="347.5" y="392.5" text-anchor="middle">M</text><text class="dl" x="293.5" y="413.8" text-anchor="middle">F</text><text class="tt" x="310.4" y="45.9" text-anchor="middle">TYPE 3</text><text class="dl" transform="translate(465.1 214.85) rotate(-90)" text-anchor="middle" dy="6">N</text><text class="dl" transform="translate(620.4 215.05) rotate(-90)" text-anchor="middle" dy="6">J</text><text class="dl" transform="translate(646.2 215.05) rotate(-90)" text-anchor="middle" dy="6">P</text><text class="dl" transform="translate(672.8 214.65) rotate(-90)" text-anchor="middle" dy="6">O</text><text class="dl" x="512.4" y="135.6" text-anchor="middle">E</text><text class="tt" x="529.6" y="45.9" text-anchor="middle">TYPE 4</text><text class="dl" x="469.5" y="369.5" text-anchor="middle">K</text><text class="dl" x="616.5" y="369.5" text-anchor="middle">M</text><text class="dl" x="542" y="392.6" text-anchor="middle">F</text><text class="dl" x="541" y="412.4" text-anchor="middle">L</text><text class="dl" transform="translate(711 215.35) rotate(-90)" text-anchor="middle" dy="6">N</text><text class="dl" transform="translate(877.5 215.35) rotate(-90)" text-anchor="middle" dy="6">J</text><text class="dl" transform="translate(900.1 215.35) rotate(-90)" text-anchor="middle" dy="6">P</text><text class="dl" transform="translate(923.9 215.15) rotate(-90)" text-anchor="middle" dy="6">O</text><text class="dl" x="823.8" y="136.8" text-anchor="middle">E</text><text class="tt" x="799.6" y="45.9" text-anchor="middle">TYPE 5</text><text class="dl" x="798.4" y="374.7" text-anchor="middle">L</text><text class="dl" x="750.5" y="393.2" text-anchor="middle">K</text><text class="dl" x="850" y="393.2" text-anchor="middle">M</text><text class="dl" x="797" y="414.9" text-anchor="middle">F</text><text class="dl" transform="translate(964.5 215.5) rotate(-90)" text-anchor="middle" dy="6">N</text><text class="dl" transform="translate(1132 215.1) rotate(-90)" text-anchor="middle" dy="6">J</text><text class="dl" transform="translate(1159 215.5) rotate(-90)" text-anchor="middle" dy="6">P</text><text class="dl" transform="translate(1182.8 216.1) rotate(-90)" text-anchor="middle" dy="6">O</text><text class="dl" x="1081" y="130.8" text-anchor="middle">E</text><text class="dl" x="1052.3" y="373.2" text-anchor="middle">L</text><text class="dl" x="1006.5" y="391.5" text-anchor="middle">K</text><text class="dl" x="1103" y="391.5" text-anchor="middle">M</text><text class="dl" x="1050.5" y="413" text-anchor="middle">F</text><text class="tt" x="1060.4" y="45.9" text-anchor="middle">TYPE 6</text></g>
</svg>
<table class="tbl" style="grid-template-columns:142.65px 75.4px 75.4px 75.3px 75.4px 75.7px 88.7px 89.2px 75.5px 59.2px 74.9px 75.4px 75.7px 124.65px;column-gap:1.3px;row-gap:1.62px;grid-template-rows:63.7px repeat(28,28.6px)">
<thead><tr>
<th class="th"><span class="zh">型号</span><span class="en">(Type)</span></th>
<th class="th"><span class="zh">槽数</span><span class="en">(Grooves)</span></th>
<th class="th"><span class="zh">节圆</span><span class="en">(P)</span></th>
<th class="th"><span class="zh">外径</span><span class="en">(O)</span></th>
<th class="th"><span class="zh">图例</span><span class="en">(Type)</span></th>
<th class="th"><span class="zh">锥套</span><span class="en">(Bush)</span></th>
<th class="th"><span class="zh">最大孔</span><span class="en">(Max Bore)</span></th>
<th class="th"><span class="zh">轮板厚</span><span class="en">(E)</span></th>
<th class="th"><span class="zh">轮厚</span><span class="en">(F)</span></th>
<th class="th"><span class="zh">止口</span><span class="en">(J)</span></th>
<th class="th"><span class="zh lat">K</span><span class="en">(K)</span></th>
<th class="th"><span class="zh">孔长</span><span class="en">(L)</span></th>
<th class="th"><span class="zh lat">M</span><span class="en">(M)</span></th>
<th class="th last"><span class="zh">小外圆直径</span><span class="en">(N)</span></th>
</tr></thead><tbody>
<tr>
<td class="td d">SPA90-04</td>
<td class="td d">4</td>
<td class="td d">90</td>
<td class="td d">95.5</td>
<td class="td d">3</td>
<td class="td d">1615</td>
<td class="td d">42</td>
<td class="td d">-</td>
<td class="td d">65</td>
<td class="td d">64</td>
<td class="td d">13.5</td>
<td class="td d">38</td>
<td class="td d">1.35</td>
<td class="td d last">-</td>
</tr>
<tr>
<td class="td l">SPA95-04</td>
<td class="td l">4</td>
<td class="td l">95</td>
<td class="td l">100.5</td>
<td class="td l">3</td>
<td class="td l">1615</td>
<td class="td l">42</td>
<td class="td l">-</td>
<td class="td l">65</td>
<td class="td l">64</td>
<td class="td l">13.5</td>
<td class="td l">38</td>
<td class="td l">13.5</td>
<td class="td l last">-</td>
</tr>
<tr>
<td class="td d">SPA100-04</td>
<td class="td d">4</td>
<td class="td d">100</td>
<td class="td d">105.5</td>
<td class="td d">2</td>
<td class="td d">1615</td>
<td class="td d">42</td>
<td class="td d">-</td>
<td class="td d">65</td>
<td class="td d">70</td>
<td class="td d">-</td>
<td class="td d">38</td>
<td class="td d">27</td>
<td class="td d last">-</td>
</tr>
<tr>
<td class="td l">SPA106-04</td>
<td class="td l">4</td>
<td class="td l">106</td>
<td class="td l">111.5</td>
<td class="td l">8</td>
<td class="td l">2012</td>
<td class="td l">50</td>
<td class="td l">-</td>
<td class="td l">65</td>
<td class="td l">76</td>
<td class="td l">33</td>
<td class="td l">32</td>
<td class="td l">-</td>
<td class="td l last">-</td>
</tr>
<tr>
<td class="td d">SPA112-04</td>
<td class="td d">4</td>
<td class="td d">112</td>
<td class="td d">117.5</td>
<td class="td d">8</td>
<td class="td d">2012</td>
<td class="td d">50</td>
<td class="td d">-</td>
<td class="td d">65</td>
<td class="td d">80</td>
<td class="td d">33</td>
<td class="td d">32</td>
<td class="td d">-</td>
<td class="td d last">-</td>
</tr>
<tr>
<td class="td l">SPA118-04</td>
<td class="td l">4</td>
<td class="td l">118</td>
<td class="td l">123.5</td>
<td class="td l">2</td>
<td class="td l">2012</td>
<td class="td l">50</td>
<td class="td l">-</td>
<td class="td l">65</td>
<td class="td l">86</td>
<td class="td l">-</td>
<td class="td l">32</td>
<td class="td l">33</td>
<td class="td l last">-</td>
</tr>
<tr>
<td class="td d">SPA125-04</td>
<td class="td d">4</td>
<td class="td d">125</td>
<td class="td d">130.5</td>
<td class="td d">2</td>
<td class="td d">2012</td>
<td class="td d">50</td>
<td class="td d">-</td>
<td class="td d">65</td>
<td class="td d">92</td>
<td class="td d">-</td>
<td class="td d">32</td>
<td class="td d">33</td>
<td class="td d last">-</td>
</tr>
<tr>
<td class="td l">SPA132-04</td>
<td class="td l">4</td>
<td class="td l">132</td>
<td class="td l">137.5</td>
<td class="td l">2</td>
<td class="td l">2517</td>
<td class="td l">60</td>
<td class="td l">-</td>
<td class="td l">65</td>
<td class="td l">98</td>
<td class="td l">-</td>
<td class="td l">45</td>
<td class="td l">20</td>
<td class="td l last">-</td>
</tr>
<tr>
<td class="td d">SPA140-04</td>
<td class="td d">4</td>
<td class="td d">140</td>
<td class="td d">145.5</td>
<td class="td d">2</td>
<td class="td d">2517</td>
<td class="td d">60</td>
<td class="td d">-</td>
<td class="td d">65</td>
<td class="td d">106</td>
<td class="td d">-</td>
<td class="td d">45</td>
<td class="td d">20</td>
<td class="td d last">-</td>
</tr>
<tr>
<td class="td l">SPA150-04</td>
<td class="td l">4</td>
<td class="td l">150</td>
<td class="td l">155.5</td>
<td class="td l">2</td>
<td class="td l">2517</td>
<td class="td l">60</td>
<td class="td l">-</td>
<td class="td l">65</td>
<td class="td l">116</td>
<td class="td l">-</td>
<td class="td l">45</td>
<td class="td l">20</td>
<td class="td l last">-</td>
</tr>
<tr>
<td class="td d">SPA160-04</td>
<td class="td d">4</td>
<td class="td d">160</td>
<td class="td d">165.5</td>
<td class="td d">2</td>
<td class="td d">2517</td>
<td class="td d">60</td>
<td class="td d">-</td>
<td class="td d">65</td>
<td class="td d">126</td>
<td class="td d">-</td>
<td class="td d">45</td>
<td class="td d">20</td>
<td class="td d last">-</td>
</tr>
<tr>
<td class="td l">SPA170-04</td>
<td class="td l">4</td>
<td class="td l">170</td>
<td class="td l">175.5</td>
<td class="td l">2</td>
<td class="td l">2517</td>
<td class="td l">60</td>
<td class="td l">-</td>
<td class="td l">65</td>
<td class="td l">138</td>
<td class="td l">-</td>
<td class="td l">45</td>
<td class="td l">20</td>
<td class="td l last">-</td>
</tr>
<tr>
<td class="td d">SPA180-04</td>
<td class="td d">4</td>
<td class="td d">180</td>
<td class="td d">185.5</td>
<td class="td d">2</td>
<td class="td d">2517</td>
<td class="td d">60</td>
<td class="td d">-</td>
<td class="td d">65</td>
<td class="td d">146</td>
<td class="td d">-</td>
<td class="td d">45</td>
<td class="td d">20</td>
<td class="td d last">-</td>
</tr>
<tr>
<td class="td l">SPA190-04</td>
<td class="td l">4</td>
<td class="td l">190</td>
<td class="td l">195.5</td>
<td class="td l">6</td>
<td class="td l">2517</td>
<td class="td l">60</td>
<td class="td l">-</td>
<td class="td l">65</td>
<td class="td l">158</td>
<td class="td l">-</td>
<td class="td l">45</td>
<td class="td l">20</td>
<td class="td l last">-</td>
</tr>
<tr>
<td class="td d">SPA200-04</td>
<td class="td d">4</td>
<td class="td d">200</td>
<td class="td d">205.5</td>
<td class="td d">2</td>
<td class="td d">3020</td>
<td class="td d">75</td>
<td class="td d">-</td>
<td class="td d">65</td>
<td class="td d">165</td>
<td class="td d">-</td>
<td class="td d">51</td>
<td class="td d">14</td>
<td class="td d last">-</td>
</tr>
<tr>
<td class="td l">SPA212-04</td>
<td class="td l">4</td>
<td class="td l">212</td>
<td class="td l">217.5</td>
<td class="td l">2</td>
<td class="td l">3020</td>
<td class="td l">75</td>
<td class="td l">-</td>
<td class="td l">65</td>
<td class="td l">177</td>
<td class="td l">-</td>
<td class="td l">51</td>
<td class="td l">14</td>
<td class="td l last">-</td>
</tr>
<tr>
<td class="td d">SPA224-04</td>
<td class="td d">4</td>
<td class="td d">224</td>
<td class="td d">229.5</td>
<td class="td d">6</td>
<td class="td d">3020</td>
<td class="td d">75</td>
<td class="td d">-</td>
<td class="td d">65</td>
<td class="td d">189</td>
<td class="td d">-</td>
<td class="td d">51</td>
<td class="td d">14</td>
<td class="td d last">-</td>
</tr>
<tr>
<td class="td l">SPA250-04</td>
<td class="td l">4</td>
<td class="td l">250</td>
<td class="td l">255.5</td>
<td class="td l">6</td>
<td class="td l">3020</td>
<td class="td l">75</td>
<td class="td l">10</td>
<td class="td l">65</td>
<td class="td l">215</td>
<td class="td l">7</td>
<td class="td l">51</td>
<td class="td l">7</td>
<td class="td l last">145</td>
</tr>
<tr>
<td class="td d">SPA280-04</td>
<td class="td d">4</td>
<td class="td d">280</td>
<td class="td d">285.5</td>
<td class="td d">6</td>
<td class="td d">3020</td>
<td class="td d">75</td>
<td class="td d">10</td>
<td class="td d">65</td>
<td class="td d">245</td>
<td class="td d">7</td>
<td class="td d">51</td>
<td class="td d">7</td>
<td class="td d last">145</td>
</tr>
<tr>
<td class="td l">SPA315-04</td>
<td class="td l">4</td>
<td class="td l">315</td>
<td class="td l">320.5</td>
<td class="td l">6</td>
<td class="td l">3020</td>
<td class="td l">75</td>
<td class="td l">10</td>
<td class="td l">65</td>
<td class="td l">280</td>
<td class="td l">7</td>
<td class="td l">51</td>
<td class="td l">7</td>
<td class="td l last">145</td>
</tr>
<tr>
<td class="td d">SPA355-04</td>
<td class="td d">4</td>
<td class="td d">355</td>
<td class="td d">360.5</td>
<td class="td d">5</td>
<td class="td d">3020</td>
<td class="td d">75</td>
<td class="td d">-</td>
<td class="td d">65</td>
<td class="td d">320</td>
<td class="td d">7</td>
<td class="td d">51</td>
<td class="td d">7</td>
<td class="td d last">145</td>
</tr>
<tr>
<td class="td l">SPA400-04</td>
<td class="td l">4</td>
<td class="td l">400</td>
<td class="td l">405.5</td>
<td class="td l">5</td>
<td class="td l">3020</td>
<td class="td l">75</td>
<td class="td l">-</td>
<td class="td l">65</td>
<td class="td l">365</td>
<td class="td l">7</td>
<td class="td l">51</td>
<td class="td l">7</td>
<td class="td l last">145</td>
</tr>
<tr>
<td class="td d">SPA450-04</td>
<td class="td d">4</td>
<td class="td d">450</td>
<td class="td d">455.5</td>
<td class="td d">5</td>
<td class="td d">3020</td>
<td class="td d">75</td>
<td class="td d">-</td>
<td class="td d">65</td>
<td class="td d">415</td>
<td class="td d">7</td>
<td class="td d">51</td>
<td class="td d">7</td>
<td class="td d last">145</td>
</tr>
<tr>
<td class="td l">SPA500-04</td>
<td class="td l">4</td>
<td class="td l">500</td>
<td class="td l">505.5</td>
<td class="td l">5</td>
<td class="td l">3020</td>
<td class="td l">75</td>
<td class="td l">-</td>
<td class="td l">65</td>
<td class="td l">165</td>
<td class="td l">7</td>
<td class="td l">51</td>
<td class="td l">7</td>
<td class="td l last">145</td>
</tr>
<tr>
<td class="td d">SPA560-04</td>
<td class="td d">4</td>
<td class="td d">560</td>
<td class="td d">565.5</td>
<td class="td d">4</td>
<td class="td d">3535</td>
<td class="td d">90</td>
<td class="td d">-</td>
<td class="td d">65</td>
<td class="td d">525</td>
<td class="td d">12</td>
<td class="td d">89</td>
<td class="td d">12</td>
<td class="td d last">170</td>
</tr>
<tr>
<td class="td l">SPA630-04</td>
<td class="td l">4</td>
<td class="td l">630</td>
<td class="td l">635.5</td>
<td class="td l">4</td>
<td class="td l">3535</td>
<td class="td l">90</td>
<td class="td l">-</td>
<td class="td l">65</td>
<td class="td l">595</td>
<td class="td l">12</td>
<td class="td l">89</td>
<td class="td l">12</td>
<td class="td l last">170</td>
</tr>
<tr>
<td class="td d">SPA800-04</td>
<td class="td d">4</td>
<td class="td d">800</td>
<td class="td d">805.5</td>
<td class="td d">4</td>
<td class="td d">3535</td>
<td class="td d">90</td>
<td class="td d">-</td>
<td class="td d">65</td>
<td class="td d">765</td>
<td class="td d">12</td>
<td class="td d">89</td>
<td class="td d">12</td>
<td class="td d last">170</td>
</tr>
<tr>
<td class="td l">SPA1000-04</td>
<td class="td l">4</td>
<td class="td l">1000</td>
<td class="td l">1005.5</td>
<td class="td l">4</td>
<td class="td l">4040</td>
<td class="td l">100</td>
<td class="td l">-</td>
<td class="td l">65</td>
<td class="td l">965</td>
<td class="td l">18.5</td>
<td class="td l">102</td>
<td class="td l">18.5</td>
<td class="td l last">200</td>
</tr>
</tbody></table>
</body></html>
